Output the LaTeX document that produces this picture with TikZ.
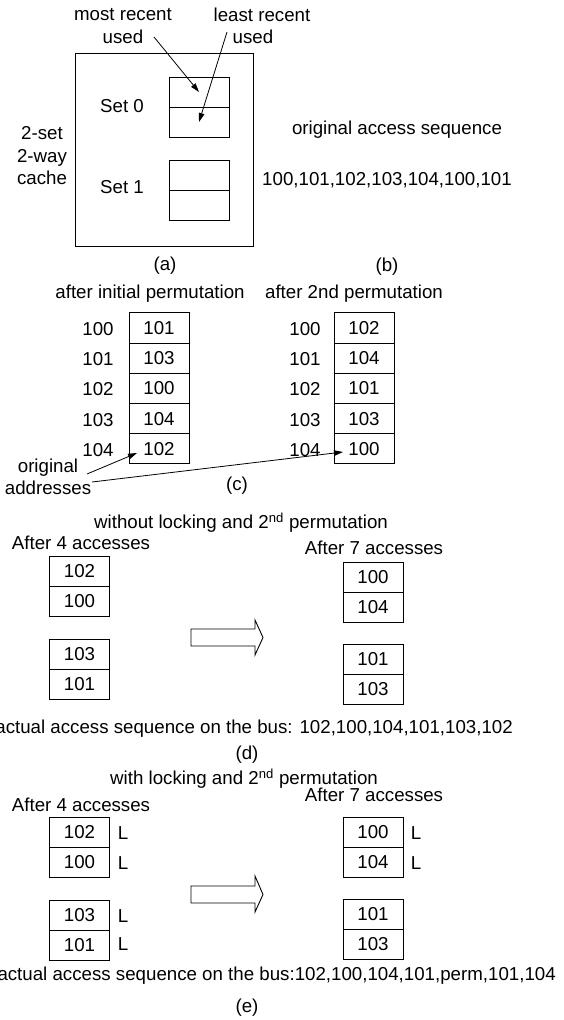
\documentclass[tikz,border=0pt]{standalone}
\usepackage{fontspec}
\setmainfont{Liberation Sans}
\usetikzlibrary{arrows.meta}
\tikzset{
  txt/.style={font=\fontsize{18.7}{22.5}\selectfont, inner sep=0pt},
  cell/.style={draw, line width=0.9pt, minimum width=60pt, minimum height=30pt, inner sep=0pt, txt},
  ccell/.style={cell, minimum height=30.2pt},
  arr/.style={-{Triangle[length=9pt,width=5.5pt]}, line width=0.8pt},
  outerbox/.style={draw, line width=0.9pt, minimum width=178pt, minimum height=193pt, inner sep=0pt},
  blockarrow/.style={draw, line width=0.9pt, fill=white}
}
\begin{document}
\begin{tikzpicture}[x=1pt,y=-1pt]
\useasboundingbox (0,0) rectangle (564,1020);

% ---- (a) cache ----
\node[outerbox] (cache) at (164,149.5) {};
\node[cell] (s0a) at (199,92) {};
\node[cell] (s0b) at (199,122) {};
\node[cell] (s1a) at (199,175) {};
\node[cell] (s1b) at (199,205) {};
\node[txt] (set0) at (122,106) {Set 0};
\node[txt] (set1) at (122,187) {Set 1};
\node[txt, align=center] (cachelbl) at (42,156) {2-set\\2-way\\cache};
\node[txt, align=center] (mru) at (123,26) {most recent\\used};
\node[txt, align=center] (lru) at (262,26) {least recent\\\hspace*{-18pt}used};
\coordinate (mruS) at (154,37);
\coordinate (lruS) at (227,32);
\draw[arr] (mruS) -- (s0a.center);
\draw[arr] (lruS) -- (s0b.center);
\node[txt] (lbla) at (165,266) {(a)};

% ---- (b) ----
\node[txt] (seqtitle) at (397,130) {original access sequence};
\node[txt] (seq) at (387,180) {100,101,102,103,104,100,101};
\node[txt] (lblb) at (387,267) {(b)};

% ---- (c) ----
\node[txt] (t1) at (150,294) {after initial permutation};
\node[txt] (t2) at (354,294) {after 2nd permutation};
\foreach \v/\a/\b/\n [count=\i from 0] in {100/101/102/a,101/103/104/b,102/100/101/c,103/104/103/d,104/102/100/e}{
  \node[ccell] (c1\n) at (159,{328+30.2*\i}) {\a};
  \node[ccell] (c2\n) at (364,{328+30.2*\i}) {\b};
  \node[txt] (l1\n) at (98,{329+30.2*\i}) {\v};
  \node[txt] (l2\n) at (305,{329+30.2*\i}) {\v};
}
\node[txt, align=center] (orig) at (48,477) {original\\addresses};
\coordinate (o1) at (87,474);
\coordinate (o2) at (92,482);
\coordinate (tip1) at (137,453);
\coordinate (tip2) at (343,452);
\draw[arr] (o1) -- (tip1);
\draw[arr] (o2) -- (tip2);
\node[txt] (lblc) at (237,486) {(c)};

% ---- (d) ----
\node[txt] (titled) at (241,523) {without locking and 2\textsuperscript{nd} permutation};
\node[txt] (a4d) at (81,543) {After 4 accesses};
\node[txt] (a7d) at (374,548) {After 7 accesses};
\node[cell] (dLa) at (79.5,571) {102};
\node[cell] (dLb) at (79.5,601) {100};
\node[cell] (dLc) at (79.5,654) {103};
\node[cell] (dLd) at (79.5,684) {101};
\node[cell] (dRa) at (373,577) {100};
\node[cell] (dRb) at (373,607) {104};
\node[cell] (dRc) at (373,659) {101};
\node[cell] (dRd) at (373,689) {103};
\draw[blockarrow] (191,629) -- (255,629) -- (255,620) -- (263,637.5) -- (255,655) -- (255,646) -- (191,646) -- cycle;
\node[txt, anchor=east] (seqd) at (513,729) {actual access sequence on the bus: 102,100,104,101,103,102};
\node[txt] (lbld) at (247,755) {(d)};

% ---- (e) ----
\node[txt] (titlee) at (244,779) {with locking and 2\textsuperscript{nd} permutation};
\node[txt] (a4e) at (81,805) {After 4 accesses};
\node[txt] (a7e) at (374,795) {After 7 accesses};
\node[cell] (eLa) at (79.5,832) {102};
\node[cell] (eLb) at (79.5,862) {100};
\node[cell] (eLc) at (79.5,915) {103};
\node[cell] (eLd) at (79.5,945) {101};
\node[cell] (eRa) at (373,832) {100};
\node[cell] (eRb) at (373,862) {104};
\node[cell] (eRc) at (373,914) {101};
\node[cell] (eRd) at (373,944) {103};
\node[txt] (LLa) at (123,833) {L};
\node[txt] (LLb) at (123,863) {L};
\node[txt] (LLc) at (123,916) {L};
\node[txt] (LLd) at (123,944) {L};
\node[txt] (LRa) at (416,833) {L};
\node[txt] (LRb) at (416,863) {L};
\draw[blockarrow] (191,886) -- (255,886) -- (255,876) -- (263,894.5) -- (255,912) -- (255,903) -- (191,903) -- cycle;
\node[txt, anchor=east] (seqe) at (556,976) {actual access sequence on the bus:102,100,104,101,perm,101,104};
\node[txt] (lble) at (247,1008) {(e)};
\end{tikzpicture}
\end{document}
